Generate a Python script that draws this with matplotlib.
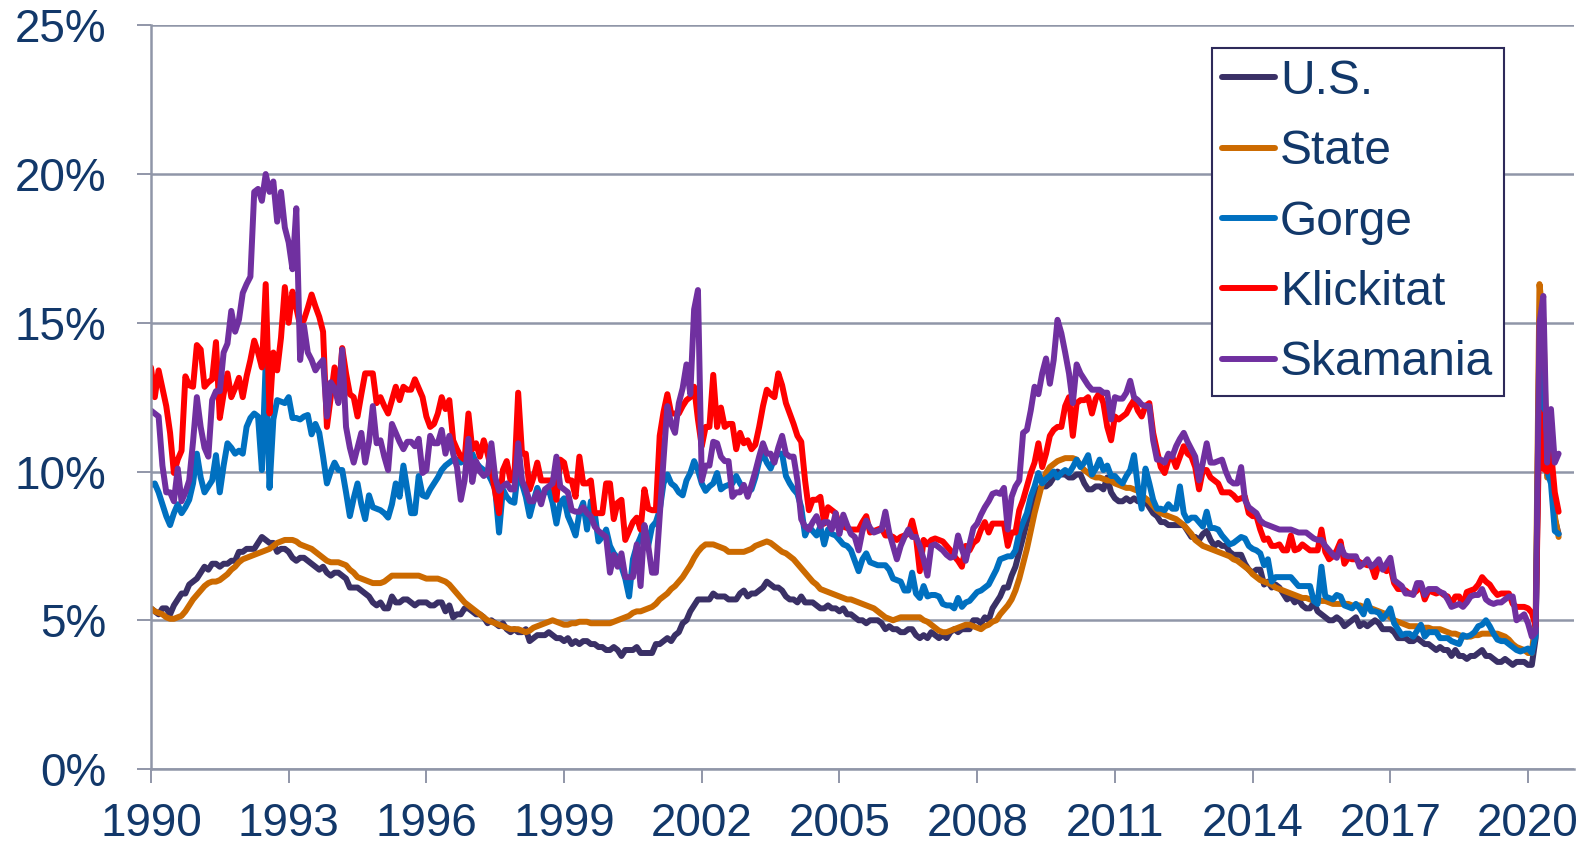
import numpy as np
import matplotlib
matplotlib.use("Agg")
import matplotlib.pyplot as plt
from matplotlib.ticker import FuncFormatter

plt.rcParams['font.family'] = ['Liberation Sans', 'DejaVu Sans']

START_YEAR = 1990  # monthly data, January 1990 onwards

us = [
    5.4, 5.3, 5.2, 5.4, 5.4, 5.2, 5.5, 5.7, 5.9, 5.9, 6.2, 6.3,
    6.4, 6.6, 6.8, 6.7, 6.9, 6.9, 6.8, 6.9, 6.9, 7.0, 7.0, 7.3,
    7.3, 7.4, 7.4, 7.4, 7.6, 7.8, 7.7, 7.6, 7.6, 7.3, 7.4, 7.4,
    7.3, 7.1, 7.0, 7.1, 7.1, 7.0, 6.9, 6.8, 6.7, 6.8, 6.6, 6.5,
    6.6, 6.6, 6.5, 6.4, 6.1, 6.1, 6.1, 6.0, 5.9, 5.8, 5.6, 5.5,
    5.6, 5.4, 5.4, 5.8, 5.6, 5.6, 5.7, 5.7, 5.6, 5.5, 5.6, 5.6,
    5.6, 5.5, 5.5, 5.6, 5.6, 5.3, 5.5, 5.1, 5.2, 5.2, 5.4, 5.4,
    5.3, 5.2, 5.2, 5.1, 4.9, 5.0, 4.9, 4.8, 4.9, 4.7, 4.6, 4.7,
    4.6, 4.6, 4.7, 4.3, 4.4, 4.5, 4.5, 4.5, 4.6, 4.5, 4.4, 4.4,
    4.3, 4.4, 4.2, 4.3, 4.2, 4.3, 4.3, 4.2, 4.2, 4.1, 4.1, 4.0,
    4.0, 4.1, 4.0, 3.8, 4.0, 4.0, 4.0, 4.1, 3.9, 3.9, 3.9, 3.9,
    4.2, 4.2, 4.3, 4.4, 4.3, 4.5, 4.6, 4.9, 5.0, 5.3, 5.5, 5.7,
    5.7, 5.7, 5.7, 5.9, 5.8, 5.8, 5.8, 5.7, 5.7, 5.7, 5.9, 6.0,
    5.8, 5.9, 5.9, 6.0, 6.1, 6.3, 6.2, 6.1, 6.1, 6.0, 5.8, 5.7,
    5.7, 5.6, 5.8, 5.6, 5.6, 5.6, 5.5, 5.4, 5.4, 5.5, 5.4, 5.4,
    5.3, 5.4, 5.2, 5.2, 5.1, 5.0, 5.0, 4.9, 5.0, 5.0, 5.0, 4.9,
    4.7, 4.8, 4.7, 4.7, 4.6, 4.6, 4.7, 4.7, 4.5, 4.4, 4.5, 4.4,
    4.6, 4.5, 4.4, 4.5, 4.4, 4.6, 4.7, 4.6, 4.7, 4.7, 4.7, 5.0,
    5.0, 4.9, 5.1, 5.0, 5.4, 5.6, 5.8, 6.1, 6.1, 6.5, 6.8, 7.3,
    7.8, 8.3, 8.7, 9.0, 9.4, 9.5, 9.5, 9.6, 9.8, 10.0, 9.9, 9.9,
    9.8, 9.8, 9.9, 9.9, 9.6, 9.4, 9.4, 9.5, 9.5, 9.4, 9.8, 9.3,
    9.1, 9.0, 9.0, 9.1, 9.0, 9.1, 9.0, 9.0, 9.0, 8.8, 8.6, 8.5,
    8.3, 8.3, 8.2, 8.2, 8.2, 8.2, 8.2, 8.0, 7.8, 7.8, 7.7, 7.9,
    8.0, 7.7, 7.5, 7.6, 7.5, 7.5, 7.3, 7.2, 7.2, 7.2, 6.9, 6.7,
    6.6, 6.7, 6.7, 6.2, 6.3, 6.1, 6.2, 6.1, 5.9, 5.7, 5.8, 5.6,
    5.7, 5.5, 5.4, 5.4, 5.6, 5.3, 5.2, 5.1, 5.0, 5.0, 5.1, 5.0,
    4.8, 4.9, 5.0, 5.1, 4.8, 4.9, 4.8, 4.9, 5.0, 4.9, 4.7, 4.7,
    4.7, 4.6, 4.4, 4.4, 4.4, 4.3, 4.3, 4.4, 4.3, 4.2, 4.2, 4.1,
    4.0, 4.1, 4.0, 4.0, 3.8, 4.0, 3.8, 3.8, 3.7, 3.8, 3.8, 3.9,
    4.0, 3.8, 3.8, 3.7, 3.6, 3.6, 3.7, 3.6, 3.5, 3.6, 3.6, 3.6,
    3.5, 3.5, 4.4, 14.7, 13.3, 11.1, 10.2, 8.4, 7.9,
]

state = [
    5.4, 5.3, 5.25, 5.2, 5.1, 5.05, 5.05, 5.1, 5.15, 5.3, 5.5, 5.7,
    5.85, 6.0, 6.15, 6.25, 6.3, 6.3, 6.35, 6.45, 6.55, 6.7, 6.8, 6.95,
    7.05, 7.1, 7.15, 7.2, 7.25, 7.3, 7.35, 7.4, 7.5, 7.6, 7.65, 7.7,
    7.7, 7.7, 7.65, 7.55, 7.5, 7.45, 7.4, 7.3, 7.2, 7.1, 7.0, 6.95,
    6.95, 6.95, 6.9, 6.85, 6.7, 6.6, 6.45, 6.4, 6.35, 6.3, 6.25, 6.25,
    6.25, 6.3, 6.4, 6.5, 6.5, 6.5, 6.5, 6.5, 6.5, 6.5, 6.5, 6.45,
    6.4, 6.4, 6.4, 6.4, 6.35, 6.3, 6.2, 6.05, 5.9, 5.75, 5.6, 5.5,
    5.4, 5.3, 5.2, 5.1, 5.0, 4.95, 4.9, 4.85, 4.8, 4.75, 4.7, 4.7,
    4.7, 4.65, 4.6, 4.65, 4.75, 4.8, 4.85, 4.9, 4.95, 5.0, 4.95, 4.9,
    4.85, 4.85, 4.9, 4.9, 4.95, 4.95, 4.95, 4.9, 4.9, 4.9, 4.9, 4.9,
    4.9, 4.95, 5.0, 5.05, 5.1, 5.15, 5.25, 5.3, 5.3, 5.35, 5.4, 5.45,
    5.55, 5.7, 5.8, 5.9, 6.05, 6.15, 6.3, 6.45, 6.65, 6.85, 7.1, 7.3,
    7.45, 7.55, 7.55, 7.55, 7.5, 7.45, 7.4, 7.3, 7.3, 7.3, 7.3, 7.3,
    7.35, 7.4, 7.5, 7.55, 7.6, 7.65, 7.6, 7.5, 7.4, 7.3, 7.25, 7.15,
    7.05, 6.9, 6.75, 6.6, 6.45, 6.3, 6.2, 6.05, 6.0, 5.95, 5.9, 5.85,
    5.8, 5.75, 5.7, 5.7, 5.65, 5.6, 5.55, 5.5, 5.45, 5.4, 5.3, 5.2,
    5.1, 5.05, 5.0, 5.05, 5.1, 5.1, 5.1, 5.1, 5.1, 5.1, 5.0, 4.95,
    4.85, 4.75, 4.65, 4.6, 4.6, 4.65, 4.7, 4.75, 4.8, 4.85, 4.85, 4.8,
    4.75, 4.7, 4.8, 4.85, 4.95, 5.0, 5.2, 5.35, 5.5, 5.7, 6.0, 6.4,
    6.9, 7.4, 8.0, 8.6, 9.1, 9.6, 9.95, 10.15, 10.25, 10.35, 10.4, 10.45,
    10.45, 10.45, 10.4, 10.2, 10.05, 9.95, 9.85, 9.8, 9.8, 9.75, 9.7, 9.7,
    9.6, 9.55, 9.5, 9.45, 9.45, 9.4, 9.35, 9.2, 9.1, 9.0, 8.85, 8.7,
    8.6, 8.55, 8.5, 8.45, 8.4, 8.3, 8.2, 8.05, 7.9, 7.7, 7.6, 7.5,
    7.45, 7.4, 7.35, 7.3, 7.25, 7.2, 7.15, 7.05, 7.0, 6.9, 6.8, 6.7,
    6.55, 6.45, 6.35, 6.3, 6.25, 6.2, 6.1, 6.05, 6.0, 5.95, 5.9, 5.85,
    5.8, 5.75, 5.75, 5.7, 5.7, 5.7, 5.65, 5.65, 5.6, 5.55, 5.55, 5.55,
    5.55, 5.55, 5.5, 5.5, 5.5, 5.45, 5.4, 5.4, 5.35, 5.3, 5.25, 5.2,
    5.1, 5.0, 4.95, 4.9, 4.85, 4.8, 4.8, 4.8, 4.75, 4.75, 4.75, 4.7,
    4.7, 4.7, 4.65, 4.6, 4.55, 4.55, 4.5, 4.45, 4.45, 4.45, 4.5, 4.5,
    4.55, 4.55, 4.55, 4.55, 4.55, 4.5, 4.45, 4.35, 4.2, 4.1, 4.05, 4.0,
    3.9, 3.9, 5.1, 16.3, 15.1, 9.8, 10.0, 8.5, 7.8,
]

gorge = [
    9.55, 9.6, 9.3, 8.9, 8.5, 8.2, 8.6, 8.9, 8.6, 8.8, 9.05, 9.6,
    10.6, 9.8, 9.3, 9.5, 9.7, 10.55, 9.3, 10.2, 10.95, 10.8, 10.6, 10.7,
    10.6, 11.5, 11.8, 11.95, 11.85, 10.05, 13.65, 9.45, 11.75, 12.4, 12.35, 12.3,
    12.5, 11.8, 11.8, 11.75, 11.85, 11.9, 11.25, 11.6, 11.3, 10.5, 9.6, 10.0,
    10.3, 10.05, 10.05, 9.3, 8.5, 9.1, 9.6, 8.9, 8.4, 9.2, 8.8, 8.75,
    8.7, 8.6, 8.45, 8.9, 9.6, 9.15, 10.2, 9.4, 8.6, 8.6, 9.85, 9.2,
    9.15, 9.4, 9.6, 9.8, 10.05, 10.2, 10.3, 10.4, 10.4, 10.3, 10.4, 10.5,
    10.6, 10.3, 10.15, 10.05, 9.95, 9.7, 9.4, 7.95, 9.4, 9.15, 9.0, 8.95,
    10.05, 9.6, 9.15, 8.5, 9.0, 9.45, 9.15, 9.3, 9.4, 8.95, 8.25, 8.95,
    9.1, 8.5, 8.2, 7.85, 8.6, 8.95, 8.05, 9.0, 8.6, 7.65, 7.8, 8.05,
    7.5, 7.25, 7.1, 6.8, 6.4, 5.8, 7.05, 7.5, 7.8, 8.15, 7.5, 8.15,
    8.3, 8.7, 9.6, 9.9, 9.6, 9.5, 9.3, 9.2, 9.7, 9.95, 10.35, 10.05,
    9.6, 9.35, 9.5, 9.6, 9.95, 9.4, 9.5, 9.55, 9.6, 9.85, 9.6, 9.4,
    9.3, 9.4, 9.8, 10.35, 10.6, 10.3, 10.1, 10.45, 10.6, 10.6, 9.85, 9.6,
    9.4, 9.25, 8.8, 7.85, 8.15, 8.0, 7.85, 8.15, 7.55, 8.05, 7.9, 7.85,
    7.7, 7.55, 7.5, 7.35, 7.0, 6.65, 7.05, 7.25, 6.95, 6.9, 6.85, 6.85,
    6.85, 6.7, 6.4, 6.35, 6.3, 6.0, 6.0, 6.6, 5.9, 5.75, 6.15, 5.8,
    5.85, 5.85, 5.8, 5.55, 5.5, 5.5, 5.4, 5.75, 5.45, 5.6, 5.65, 5.8,
    5.95, 6.0, 6.1, 6.2, 6.45, 6.7, 7.05, 7.1, 7.15, 7.15, 7.35, 7.95,
    8.3, 8.6, 9.15, 9.5, 9.95, 9.6, 9.75, 9.85, 10.0, 9.8, 9.95, 10.05,
    9.95, 10.15, 10.4, 10.15, 10.3, 10.55, 9.9, 10.1, 10.4, 10.05, 10.2, 9.85,
    9.85, 9.7, 9.6, 9.85, 10.05, 10.55, 9.5, 8.75, 10.1, 9.6, 9.05, 8.75,
    8.75, 8.7, 8.9, 8.75, 8.75, 9.5, 8.6, 8.35, 8.45, 8.45, 8.3, 8.15,
    8.65, 8.1, 8.1, 8.05, 7.85, 7.7, 7.55, 7.6, 7.7, 7.8, 7.75, 7.5,
    7.4, 7.35, 7.25, 6.85, 7.05, 6.3, 6.45, 6.45, 6.45, 6.45, 6.45, 6.3,
    6.15, 6.15, 6.15, 6.15, 5.65, 5.55, 6.8, 5.8, 5.75, 5.7, 5.85, 5.8,
    5.5, 5.45, 5.4, 5.55, 5.4, 5.2, 5.65, 5.3, 5.3, 5.25, 5.05, 5.2,
    5.4, 4.9, 4.7, 4.5, 4.55, 4.55, 4.45, 4.65, 4.85, 4.45, 4.6, 4.6,
    4.6, 4.4, 4.4, 4.4, 4.3, 4.25, 4.2, 4.5, 4.45, 4.5, 4.6, 4.8,
    4.85, 5.0, 4.8, 4.55, 4.35, 4.3, 4.3, 4.2, 4.1, 4.0, 3.95, 4.0,
    4.05, 3.9, 4.5, 13.5, 12.0, 10.0, 9.6, 8.0, 7.9,
]

klickitat = [
    13.5, 12.5, 13.4, 12.8, 12.2, 11.3, 9.95, 10.4, 10.7, 13.2, 12.9, 12.85,
    14.25, 14.1, 12.85, 13.0, 13.1, 14.35, 11.8, 12.6, 13.3, 12.5, 12.8, 13.15,
    12.5, 13.2, 13.75, 14.4, 14.0, 13.5, 16.3, 11.95, 14.0, 13.4, 14.5, 16.2,
    15.0, 16.05, 15.5, 14.9, 15.1, 15.5, 15.95, 15.55, 15.2, 14.7, 11.5, 12.5,
    13.5, 12.4, 14.15, 13.3, 12.6, 12.5, 11.85, 12.6, 13.3, 13.3, 13.3, 12.3,
    12.5, 12.2, 11.95, 12.4, 12.85, 12.4, 12.85, 12.75, 12.75, 13.1, 12.8, 12.5,
    11.85, 11.5, 11.6, 11.95, 12.5, 12.1, 12.4, 11.05, 10.75, 10.5, 10.4, 11.95,
    10.75, 10.95, 10.5, 11.05, 10.6, 10.05, 9.3, 8.6, 10.05, 10.35, 9.7, 9.8,
    12.65, 10.6, 10.6, 9.4, 9.8, 10.3, 9.7, 9.7, 9.7, 9.7, 9.05, 10.4,
    10.3, 9.7, 9.7, 9.15, 10.5, 9.6, 9.6, 9.7, 8.6, 8.6, 8.6, 9.6,
    9.6, 8.4, 8.95, 9.05, 7.7, 8.0, 8.3, 8.45, 8.05, 9.4, 8.75, 8.7,
    8.7, 11.2, 12.0, 12.6, 11.95, 11.95, 11.95, 12.2, 12.4, 12.5, 12.85, 11.75,
    10.85, 11.5, 11.5, 13.25, 11.5, 12.15, 11.5, 11.6, 11.6, 10.75, 11.3, 10.95,
    11.05, 10.75, 10.9, 11.5, 12.2, 12.75, 12.6, 12.5, 13.3, 12.9, 12.3, 11.95,
    11.6, 11.2, 11.0, 9.7, 8.7, 9.05, 9.05, 9.15, 8.25, 8.8, 8.7, 8.6,
    8.15, 8.15, 8.1, 8.05, 8.05, 8.05, 8.3, 8.5, 7.95, 8.0, 8.05, 8.1,
    7.85, 7.85, 7.8, 7.7, 7.8, 7.85, 7.9, 8.35, 7.8, 6.65, 7.7, 7.55,
    7.7, 7.75, 7.7, 7.65, 7.5, 7.35, 7.15, 7.0, 6.8, 7.5, 7.35, 7.6,
    7.7, 8.05, 8.3, 7.95, 8.25, 8.25, 8.25, 8.25, 7.5, 7.95, 7.95, 8.7,
    9.05, 9.5, 9.95, 10.3, 10.95, 10.15, 10.6, 11.2, 11.4, 11.5, 11.5, 12.2,
    12.5, 11.2, 12.3, 12.4, 12.4, 12.5, 11.95, 12.45, 12.65, 12.3, 11.5, 11.05,
    11.85, 11.75, 11.85, 11.95, 12.2, 12.4, 12.05, 11.85, 12.2, 12.3, 11.3, 10.7,
    10.15, 9.95, 10.4, 10.5, 10.15, 10.5, 10.85, 10.6, 10.5, 10.15, 9.4, 10.05,
    10.05, 9.8, 9.7, 9.6, 9.3, 9.3, 9.3, 9.2, 9.05, 9.1, 9.15, 8.6,
    8.5, 8.5, 8.05, 7.7, 7.75, 7.5, 7.5, 7.55, 7.35, 7.35, 7.85, 7.35,
    7.4, 7.55, 7.45, 7.35, 7.35, 7.35, 8.05, 7.3, 7.05, 7.15, 7.35, 7.65,
    6.9, 7.1, 7.05, 7.05, 6.95, 6.9, 6.85, 6.85, 6.45, 6.9, 6.75, 6.65,
    6.8, 6.25, 6.05, 6.05, 6.0, 5.9, 5.9, 6.0, 6.2, 5.7, 6.0, 5.95,
    5.9, 5.95, 5.85, 5.8, 5.55, 5.8, 5.8, 5.5, 5.95, 6.0, 6.05, 6.2,
    6.45, 6.3, 6.2, 6.0, 5.85, 5.9, 5.9, 5.9, 5.55, 5.45, 5.45, 5.45,
    5.4, 5.25, 4.8, 12.0, 10.1, 10.0, 10.7, 9.3, 8.65,
]

skamania = [
    12.05, 11.95, 11.85, 10.2, 9.3, 9.3, 9.0, 10.1, 9.0, 9.3, 9.7, 11.0,
    12.5, 11.5, 10.8, 10.5, 12.4, 12.7, 12.7, 14.0, 14.3, 15.4, 14.7, 15.1,
    16.0, 16.3, 16.55, 19.4, 19.5, 19.1, 20.0, 19.4, 19.75, 18.4, 19.4, 18.2,
    17.7, 16.8, 18.85, 13.75, 14.9, 14.0, 13.75, 13.4, 13.6, 13.75, 11.85, 13.0,
    12.8, 12.3, 14.1, 11.5, 10.8, 10.3, 10.8, 11.3, 10.3, 11.0, 12.2, 10.95,
    11.05, 10.5, 10.05, 11.6, 11.3, 11.0, 10.75, 11.0, 11.0, 10.85, 11.1, 9.95,
    10.05, 11.2, 10.95, 10.95, 11.4, 10.6, 11.2, 10.6, 10.15, 9.05, 9.7, 11.1,
    9.65, 10.35, 10.0, 9.85, 9.95, 10.95, 9.8, 9.35, 9.5, 9.6, 9.4, 9.4,
    10.95, 9.7, 9.4, 9.0, 9.0, 9.3, 8.9, 9.4, 9.5, 9.6, 10.5, 9.5,
    9.4, 9.3, 8.7, 8.65, 8.65, 8.8, 8.6, 8.5, 8.15, 8.0, 7.9, 7.8,
    6.6, 7.2, 6.8, 7.25, 6.45, 6.45, 6.45, 7.55, 6.15, 8.2, 7.5, 6.6,
    6.6, 8.5, 10.4, 12.2, 11.6, 11.3, 12.3, 12.8, 13.6, 12.6, 15.45, 16.1,
    9.7, 10.2, 10.2, 11.0, 10.95, 10.5, 10.35, 10.35, 9.15, 9.3, 9.3, 9.55,
    9.15, 9.55, 10.0, 10.5, 10.95, 10.6, 10.6, 10.3, 10.8, 11.2, 10.6, 10.5,
    10.5, 9.7, 8.4, 8.15, 8.05, 8.3, 8.5, 8.15, 8.3, 8.3, 8.05, 8.6,
    7.9, 8.55, 8.2, 7.9, 7.8, 7.35, 8.0, 8.35, 8.1, 7.95, 8.0, 8.05,
    8.65, 7.95, 7.5, 7.05, 7.5, 7.8, 8.05, 7.8, 7.8, 7.5, 7.05, 6.5,
    7.5, 7.55, 7.45, 7.35, 7.2, 7.1, 7.15, 7.85, 7.4, 7.0, 7.55, 8.1,
    8.25, 8.55, 8.8, 9.0, 9.25, 9.3, 9.25, 9.45, 8.05, 9.15, 9.5, 9.7,
    11.3, 11.4, 12.05, 12.85, 12.6, 13.3, 13.8, 12.95, 13.75, 15.1, 14.65, 14.0,
    13.3, 12.3, 13.6, 13.3, 13.1, 12.9, 12.75, 12.75, 12.75, 12.65, 12.65, 11.75,
    12.5, 12.45, 12.45, 12.65, 13.05, 12.5, 12.4, 12.25, 12.2, 12.2, 11.05, 10.4,
    10.4, 10.3, 10.6, 10.5, 10.85, 11.1, 11.3, 11.0, 10.75, 10.5, 9.7, 10.3,
    10.95, 10.3, 10.3, 10.35, 10.4, 10.0, 9.7, 9.6, 9.6, 10.15, 9.05, 8.8,
    8.7, 8.6, 8.35, 8.25, 8.2, 8.15, 8.1, 8.05, 8.05, 8.05, 8.05, 8.0,
    7.95, 7.95, 7.95, 7.85, 7.75, 7.7, 7.7, 7.5, 7.35, 7.2, 7.1, 7.5,
    7.2, 7.15, 7.15, 7.15, 6.8, 6.9, 7.05, 6.8, 6.9, 7.05, 6.7, 6.9,
    7.1, 6.35, 6.25, 6.15, 5.9, 5.9, 5.85, 6.25, 6.25, 5.85, 6.05, 6.05,
    6.05, 5.95, 5.9, 5.7, 5.45, 5.5, 5.55, 5.45, 5.6, 5.8, 5.85, 5.85,
    6.05, 5.7, 5.6, 5.55, 5.6, 5.6, 5.7, 5.8, 5.8, 5.0, 5.1, 5.2,
    4.9, 4.45, 4.6, 15.0, 15.9, 10.3, 12.1, 10.3, 10.6,
]

series_labels = ["U.S.", "State", "Gorge", "Klickitat", "Skamania"]
series_values = [us, state, gorge, klickitat, skamania]
series_colors = ["#3A3066", "#CC6A00", "#0070C0", "#FF0000", "#7030A0"]

x_ticks = list(range(1990, 2021, 3))
y_ticks = [0, 5, 10, 15, 20, 25]

TEXT_C = "#12386A"
GRID_C = "#9096A8"

fig = plt.figure(figsize=(15.94, 8.46), dpi=100)
ax = fig.add_axes([0.0947, 0.091, 0.8927, 0.8791])

for label, vals, color in zip(series_labels, series_values, series_colors):
    x = START_YEAR + np.arange(len(vals)) / 12.0
    ax.plot(x, vals, color=color, lw=4.3, label=label,
            solid_joinstyle="round", solid_capstyle="round")

ax.set_xlim(1990, 2021)
ax.set_ylim(0, 25)
ax.set_xticks(x_ticks)
ax.set_xticklabels([str(t) for t in x_ticks])
ax.set_yticks(y_ticks)
ax.yaxis.set_major_formatter(FuncFormatter(lambda v, p: f"{int(round(v))}%"))

ax.grid(axis="y", color=GRID_C, lw=1.8)
ax.set_axisbelow(True)
for s in ["top", "right"]:
    ax.spines[s].set_visible(False)
for s in ["left", "bottom"]:
    ax.spines[s].set_color(GRID_C)
    ax.spines[s].set_linewidth(1.8)

ax.tick_params(axis="both", labelsize=33, color=GRID_C, labelcolor=TEXT_C,
               length=10, width=1.4, direction="out")
ax.tick_params(axis="x", pad=14)
ax.tick_params(axis="y", pad=22)

leg = ax.legend(loc="upper left", bbox_to_anchor=(0.7456, 0.9690),
                borderaxespad=0, fontsize=34.5, handlelength=1.1,
                handletextpad=0.1, labelspacing=0.53, borderpad=0.22,
                fancybox=False, framealpha=1, edgecolor="#2E2A5A")
leg.get_frame().set_linewidth(1.5)
for t in leg.get_texts():
    t.set_color(TEXT_C)

fig.savefig("out.png", dpi=100)
